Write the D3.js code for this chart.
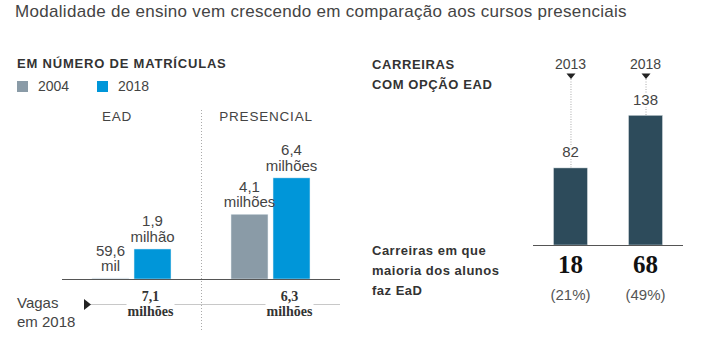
<!DOCTYPE html>
<html>
<head>
<meta charset="utf-8">
<script src="https://cdn.jsdelivr.net/npm/d3@7"></script>
<style>
  body { margin: 0; background: #fff; }
  svg { font-family: "Liberation Sans", Arial, sans-serif; }
</style>
</head>
<body>
<div id="chart"></div>
<script>
// Matrículas (milhões)
const groups = ["EAD", "PRESENCIAL"];
const years = ["2004", "2018"];
const matriculas = [
    { grupo: "EAD", ano: "2004", valor: 0.0596, rotulo: ["59,6", "mil"] },
    { grupo: "EAD", ano: "2018", valor: 1.9, rotulo: ["1,9", "milhão"] },
    { grupo: "PRESENCIAL", ano: "2004", valor: 4.1, rotulo: ["4,1", "milhões"] },
    { grupo: "PRESENCIAL", ano: "2018", valor: 6.4, rotulo: ["6,4", "milhões"] }
];
const vagas = [
    { grupo: "EAD", rotulo: ["7,1", "milhões"] },
    { grupo: "PRESENCIAL", rotulo: ["6,3", "milhões"] }
];

// Carreiras com opção EAD
const anosCarreiras = ["2013", "2018"];
const carreiras = [82, 138];
const maioriaEad = ["18", "68"];
const maioriaPct = ["(21%)", "(49%)"];

const colors = { "2004": "#8a9ba7", "2018": "#0096d9" };
const darkBar = "#2d4b5b";

const W = 708, H = 340;
const svg = d3.select("#chart").append("svg")
    .attr("width", W)
    .attr("height", H);

// título
svg.append("text")
    .attr("x", 15).attr("y", 17)
    .attr("font-size", "17px")
    .attr("letter-spacing", "0.3px")
    .attr("fill", "#444")
    .text("Modalidade de ensino vem crescendo em comparação aos cursos presenciais");

// ---- bloco esquerdo: matrículas ----
svg.append("text")
    .attr("x", 17).attr("y", 67.5)
    .attr("font-size", "13px").attr("font-weight", "bold")
    .attr("letter-spacing", "0.8px")
    .attr("fill", "#333")
    .text("EM NÚMERO DE MATRÍCULAS");

const legend = svg.append("g").attr("transform", "translate(17,81)");
years.forEach((y, i) => {
    const g = legend.append("g").attr("transform", `translate(${i * 80},0)`);
    g.append("rect").attr("width", 11).attr("height", 11).attr("fill", colors[y]);
    g.append("text").attr("x", 21).attr("y", 10)
        .attr("font-size", "14px").attr("fill", "#444").text(y);
});

const baseL = 279;
const x0 = d3.scaleBand().domain(groups).range([62, 340]);
const x1 = d3.scaleBand().domain(years).range([30, 109]).paddingInner(0.12);
const yL = d3.scaleLinear().domain([0, 8]).range([baseL, baseL - 126.4]);

// separador pontilhado
svg.append("line")
    .attr("x1", 201.5).attr("x2", 201.5)
    .attr("y1", 110).attr("y2", 332)
    .attr("stroke", "#aaa").attr("stroke-dasharray", "1,2");

svg.selectAll(".grupo")
    .data(groups)
    .enter().append("text")
    .attr("class", "grupo")
    .attr("x", (d, i) => i === 0 ? 117 : 266)
    .attr("y", 120.5)
    .attr("text-anchor", "middle")
    .attr("font-size", "13.5px")
    .attr("letter-spacing", "0.8px")
    .attr("fill", "#444")
    .text(d => d);

svg.selectAll(".barL")
    .data(matriculas)
    .enter().append("rect")
    .attr("class", "barL")
    .attr("x", d => x0(d.grupo) + x1(d.ano))
    .attr("width", x1.bandwidth())
    .attr("y", d => yL(d.valor))
    .attr("height", d => baseL - yL(d.valor))
    .attr("fill", d => d.valor < 0.1 ? "#d0dae0" : colors[d.ano])
    .attr("stroke", "#e6eef3").attr("stroke-width", 0.5);

const labL = svg.selectAll(".labL")
    .data(matriculas)
    .enter().append("text")
    .attr("class", "labL")
    .attr("text-anchor", "middle")
    .attr("font-size", "15px")
    .attr("fill", "#444");
labL.each(function (d) {
    const cx = x0(d.grupo) + x1(d.ano) + x1.bandwidth() / 2;
    const yb = yL(d.valor) - 7;
    d3.select(this).selectAll("tspan")
        .data(d.rotulo)
        .enter().append("tspan")
        .attr("x", cx)
        .attr("y", (t, i) => yb - (d.rotulo.length - 1 - i) * 15.5)
        .text(t => t);
});

svg.append("line")
    .attr("x1", 62).attr("x2", 340)
    .attr("y1", baseL + 0.5).attr("y2", baseL + 0.5)
    .attr("stroke", "#555");

// vagas em 2018
svg.append("text").attr("font-size", "15px").attr("fill", "#444")
    .selectAll("tspan").data(["Vagas", "em 2018"]).enter().append("tspan")
    .attr("x", 17).attr("y", (d, i) => 308 + i * 19).text(d => d);

svg.append("line")
    .attr("x1", 88).attr("x2", 340)
    .attr("y1", 304.5).attr("y2", 304.5)
    .attr("stroke", "#c8c8c8");
svg.append("path")
    .attr("d", "M84,299 L91,304.5 L84,310 Z")
    .attr("fill", "#222");

vagas.forEach(v => {
    const cx = x0(v.grupo) + x1("2018") + x1.bandwidth() / 2 - 2;
    svg.append("rect")
        .attr("x", cx - 24).attr("y", 289)
        .attr("width", 48).attr("height", 30)
        .attr("fill", "#fff");
    svg.append("text")
        .attr("text-anchor", "middle")
        .attr("font-family", "'Liberation Serif', 'Times New Roman', serif")
        .attr("font-weight", "bold")
        .attr("font-size", "14px")
        .attr("fill", "#333")
        .selectAll("tspan").data(v.rotulo).enter().append("tspan")
        .attr("x", cx).attr("y", (d, i) => 300.5 + i * 15).text(d => d);
});

// ---- bloco direito: carreiras ----
svg.append("text").attr("font-size", "13px").attr("font-weight", "bold")
    .attr("letter-spacing", "0.6px").attr("fill", "#333")
    .selectAll("tspan").data(["CARREIRAS", "COM OPÇÃO EAD"]).enter().append("tspan")
    .attr("x", 372).attr("y", (d, i) => 69 + i * 19.5).text(d => d);

svg.append("text").attr("font-size", "13px").attr("font-weight", "bold")
    .attr("letter-spacing", "0.5px").attr("fill", "#333")
    .selectAll("tspan").data(["Carreiras em que", "maioria dos alunos", "faz EaD"]).enter().append("tspan")
    .attr("x", 372).attr("y", (d, i) => 254.5 + i * 20).text(d => d);

const baseR = 245;
const xR = d3.scaleBand().domain(anosCarreiras).range([533, 683])
    .paddingInner(0.547).paddingOuter(0.273);
const yR = d3.scaleLinear().domain([0, 150]).range([baseR, baseR - 141]);
const cxR = d => xR(d) + xR.bandwidth() / 2;

const dadosR = anosCarreiras.map((a, i) => ({ ano: a, valor: carreiras[i], n: maioriaEad[i], pct: maioriaPct[i] }));

svg.selectAll(".guia")
    .data(dadosR)
    .enter().append("line")
    .attr("x1", d => cxR(d.ano) + 0.5).attr("x2", d => cxR(d.ano) + 0.5)
    .attr("y1", 79).attr("y2", d => yR(d.valor))
    .attr("stroke", "#aaa").attr("stroke-dasharray", "1,1.5");

svg.selectAll(".seta")
    .data(dadosR)
    .enter().append("path")
    .attr("d", d => { const c = cxR(d.ano) + 0.5; return `M${c - 4.5},73.5 L${c + 4.5},73.5 L${c},79 Z`; })
    .attr("fill", "#222");

svg.selectAll(".ano")
    .data(dadosR)
    .enter().append("text")
    .attr("x", d => cxR(d.ano)).attr("y", 68.5)
    .attr("text-anchor", "middle")
    .attr("font-size", "14px").attr("fill", "#444")
    .text(d => d.ano);

svg.selectAll(".barR")
    .data(dadosR)
    .enter().append("rect")
    .attr("x", d => xR(d.ano))
    .attr("width", xR.bandwidth())
    .attr("y", d => yR(d.valor))
    .attr("height", d => baseR - yR(d.valor))
    .attr("fill", darkBar)
    .attr("stroke", "#dfe5e8").attr("stroke-width", 0.5);

svg.selectAll(".valR")
    .data(dadosR)
    .enter().append("text")
    .attr("x", d => cxR(d.ano)).attr("y", d => yR(d.valor) - 10.5)
    .attr("text-anchor", "middle")
    .attr("font-size", "15px").attr("fill", "#444")
    .attr("stroke", "#fff").attr("stroke-width", 4).attr("paint-order", "stroke")
    .text(d => d.valor);

svg.append("line")
    .attr("x1", 533).attr("x2", 683)
    .attr("y1", baseR + 0.5).attr("y2", baseR + 0.5)
    .attr("stroke", "#555");

svg.selectAll(".big")
    .data(dadosR)
    .enter().append("text")
    .attr("x", d => cxR(d.ano)).attr("y", 272.5)
    .attr("text-anchor", "middle")
    .attr("font-family", "'Liberation Serif', 'Times New Roman', serif")
    .attr("font-weight", "bold").attr("font-size", "25px")
    .attr("fill", "#111")
    .text(d => d.n);

svg.selectAll(".pct")
    .data(dadosR)
    .enter().append("text")
    .attr("x", d => cxR(d.ano)).attr("y", 299.5)
    .attr("text-anchor", "middle")
    .attr("font-size", "15px").attr("fill", "#555")
    .text(d => d.pct);
</script>
</body>
</html>
